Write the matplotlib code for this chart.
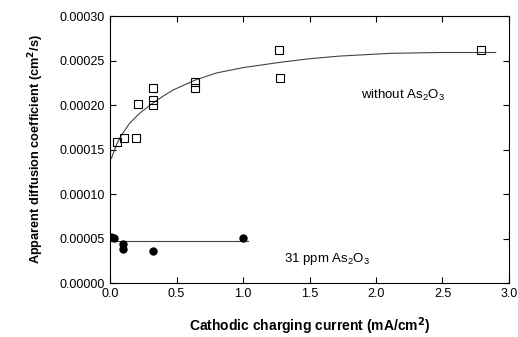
import matplotlib
matplotlib.use("Agg")
import matplotlib.pyplot as plt

plt.rcParams['font.family'] = ['Liberation Sans', 'DejaVu Sans']
plt.rcParams['mathtext.fontset'] = 'custom'
plt.rcParams['mathtext.rm'] = 'Liberation Sans'

# measured points, without As2O3 (open squares)
x_without = [0.05, 0.107, 0.195, 0.21, 0.32, 0.32, 0.32, 0.64, 0.64, 1.27, 1.28, 2.79]
y_without = [0.000158, 0.000163, 0.000163, 0.000201, 0.000219, 0.000206, 0.000200,
             0.000219, 0.000226, 0.000262, 0.000230, 0.000262]

# fitted curve
x_fit = [0.01, 0.05, 0.09, 0.15, 0.225, 0.32, 0.4, 0.476, 0.64, 0.8, 1.0, 1.28, 1.5, 1.73, 2.1, 2.48, 2.9]
y_fit = [0.000140, 0.000156, 0.000167, 0.000180, 0.000191, 0.000202, 0.000210, 0.000217,
         0.000228, 0.000236, 0.000242, 0.000248, 0.000252, 0.000255, 0.000258, 0.000259, 0.000259]

# 31 ppm As2O3 (filled circles)
x_as = [0.005, 0.03, 0.1, 0.1, 0.32, 1.0]
y_as = [0.0000513, 0.0000502, 0.0000435, 0.0000379, 0.0000363, 0.0000509]
x_as_fit = [0.0, 1.04]
y_as_fit = [0.0000472, 0.0000472]

fig = plt.figure(figsize=(5.18, 3.37), dpi=100)
ax = fig.add_axes([0.2124, 0.1602, 0.7702, 0.7923])

ax.plot(x_fit, y_fit, color='#444444', lw=0.8)
ax.plot(x_without, y_without, 's', mfc='none', mec='black', ms=6, mew=0.8)
ax.plot(x_as_fit, y_as_fit, color='#444444', lw=0.8)
ax.plot(x_as, y_as, 'o', color='black', ms=5)

ax.set_xlim(0, 3.0)
ax.set_ylim(0, 0.0003)
ax.set_xticks([0.0, 0.5, 1.0, 1.5, 2.0, 2.5, 3.0])
ax.set_yticks([0, 0.00005, 0.0001, 0.00015, 0.0002, 0.00025, 0.0003])
ax.set_xticklabels(['0.0', '0.5', '1.0', '1.5', '2.0', '2.5', '3.0'])
ax.set_yticklabels(['0.00000', '0.00005', '0.00010', '0.00015', '0.00020', '0.00025', '0.00030'])
ax.tick_params(direction='in', top=True, right=True, labelsize=9, length=4, width=0.8)

ax.text(2.2, 0.000211, 'without As$_2$O$_3$', fontsize=9.5, ha='center', va='center')
ax.text(1.63, 0.0000265, '31 ppm As$_2$O$_3$', fontsize=9.5, ha='center', va='center')

ax.set_xlabel('Cathodic charging current (mA/cm$^\\mathbf{2}$)', fontsize=10, fontweight='bold', labelpad=11)
ax.set_ylabel('Apparent diffusion coefficient (cm$^\\mathbf{2}$/s)', fontsize=9.2, fontweight='bold', labelpad=10)

fig.savefig('out.png', dpi=100)
